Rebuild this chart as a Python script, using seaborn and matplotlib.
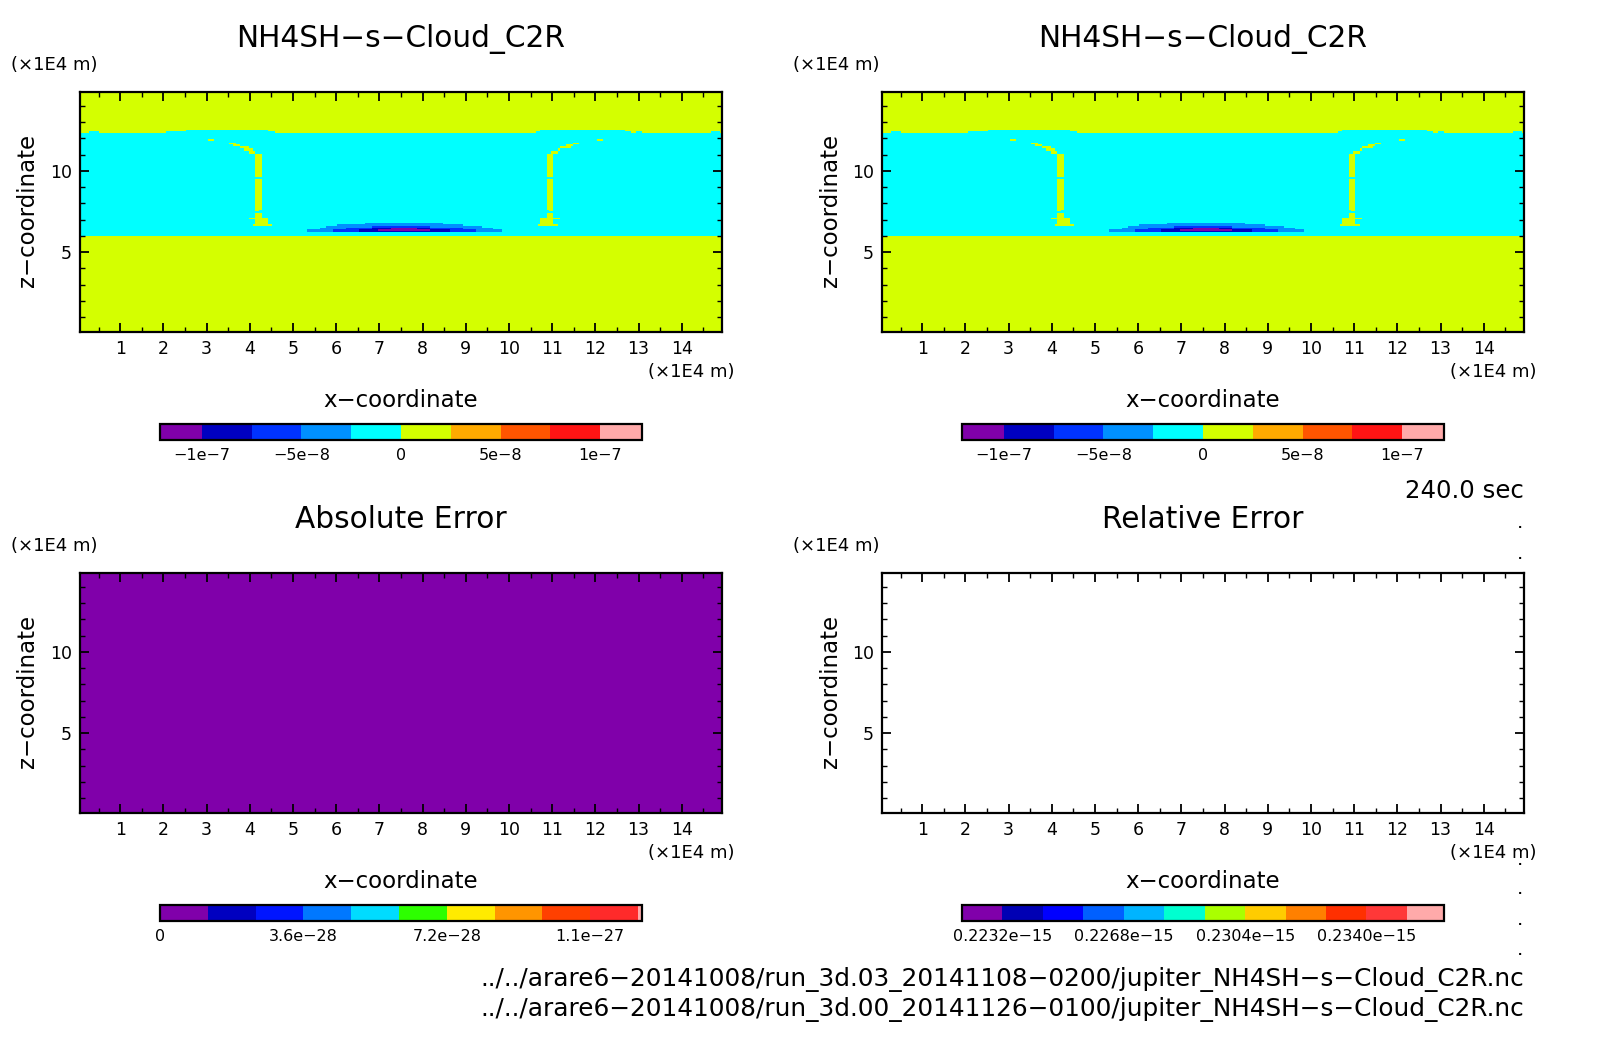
import matplotlib
matplotlib.use("Agg")
import matplotlib.pyplot as plt
import numpy as np
import seaborn as sns
from matplotlib.colors import BoundaryNorm, ListedColormap
from matplotlib.cm import ScalarMappable
from matplotlib.ticker import FixedLocator

sns.set_style("white", {"text.color": "black", "xtick.color": "black", "ytick.color": "black",
                        "axes.axisbelow": False})
plt.rcParams["font.family"] = ["DejaVu Sans"]

# grid of the model output (x 1E4 m, z 1E4 m)
x_edges = np.linspace(0.07, 14.93, 298)
z_edges = np.linspace(0.10, 14.84, 148)

# contour levels and colours of each colour bar
mix_levels = [-1.21e-7, -1e-7, -7.5e-8, -5e-8, -2.5e-8, 0, 2.5e-8, 5e-8, 7.5e-8, 1e-7, 1.21e-7]
mix_colors = ["#8000aa", "#0000c0", "#0033ff", "#0090ff", "#00ffff", "#d4ff00",
              "#ffaa00", "#ff5500", "#ff1414", "#ffaaaa"]
mix_ticks = [-1e-7, -5e-8, 0, 5e-8, 1e-7]
mix_ticklabels = ["\u22121e\u22127", "\u22125e\u22128", "0", "5e\u22128", "1e\u22127"]

abs_levels = [0, 1.2e-28, 2.4e-28, 3.6e-28, 4.8e-28, 6e-28, 7.2e-28, 8.4e-28, 9.6e-28, 1.08e-27, 1.2e-27, 1.21e-27]
abs_colors = ["#8000aa", "#0000c0", "#0015ff", "#0078ff", "#00dcff", "#2dff00",
              "#ffeb00", "#ff9500", "#ff4000", "#ff2a2a", "#ffaaaa"]
abs_ticks = [0, 3.6e-28, 7.2e-28, 1.08e-27]
abs_ticklabels = ["0", "3.6e\u221228", "7.2e\u221228", "1.1e\u221227"]

rel_levels = [0.2220, 0.2232, 0.2244, 0.2256, 0.2268, 0.2280, 0.2292, 0.2304, 0.2316, 0.2328, 0.2340, 0.2352, 0.2363]
rel_colors = ["#8000aa", "#0000b4", "#0000ff", "#0060ff", "#00b4ff", "#00ffd0",
              "#aaff00", "#ffcc00", "#ff8000", "#ff3000", "#ff3838", "#ffaaaa"]
rel_ticks = [0.2232, 0.2268, 0.2304, 0.2340]
rel_ticklabels = ["0.2232e\u221215", "0.2268e\u221215", "0.2304e\u221215", "0.2340e\u221215"]

# cloud layer: cyan band between base and top
cloud_base = 6.05
cloud_top = 12.34
cloud_value = -1.25e-8
clear_value = 1.25e-8

# x0, x1, z of the places where the top of the band is higher
top_bumps = [(0.28, 0.50, 12.45), (2.09, 2.25, 12.45), (2.25, 2.40, 12.42), (2.40, 2.50, 12.45),
             (2.50, 4.43, 12.52), (4.43, 4.55, 12.45),
             (10.62, 10.72, 12.45), (10.72, 12.69, 12.52), (12.69, 12.85, 12.42),
             (12.92, 13.07, 12.45), (14.69, 14.89, 12.45)]

# x0, x1, z0, z1 of the thin positive plumes
plumes = [(3.01, 3.16, 11.87, 11.95), (3.52, 3.68, 11.64, 11.72), (3.62, 3.75, 11.56, 11.64),
          (3.76, 3.99, 11.40, 11.56), (3.89, 4.05, 11.28, 11.40), (3.99, 4.13, 11.07, 11.28),
          (4.12, 4.29, 9.63, 11.07), (4.12, 4.29, 7.63, 9.53), (4.12, 4.22, 7.52, 7.63),
          (4.12, 4.29, 7.13, 7.42), (4.12, 4.43, 6.70, 7.13), (3.99, 4.13, 7.04, 7.13),
          (4.05, 4.51, 6.66, 6.76),
          (12.01, 12.16, 11.87, 11.95), (11.48, 11.62, 11.64, 11.72), (11.34, 11.48, 11.56, 11.64),
          (11.19, 11.42, 11.40, 11.56), (11.11, 11.20, 11.28, 11.40), (10.97, 11.11, 11.07, 11.28),
          (10.88, 11.04, 9.63, 11.07), (10.88, 11.04, 7.63, 9.53), (10.95, 11.04, 7.52, 7.63),
          (10.88, 11.04, 7.13, 7.42), (10.72, 11.04, 6.70, 7.13), (11.03, 11.19, 7.04, 7.13),
          (10.66, 11.12, 6.66, 6.76)]

# x0, x1, z0, z1 of the negative lens, one list for each level
lens_0090ff = [(5.34, 9.81, 6.25, 6.38), (5.63, 9.64, 6.38, 6.48), (5.77, 9.39, 6.48, 6.60),
               (6.00, 8.93, 6.60, 6.68), (6.67, 8.48, 6.68, 6.77), (7.43, 7.73, 6.77, 6.85)]
lens_0033ff = [(5.92, 9.23, 6.25, 6.44), (6.23, 8.93, 6.44, 6.56), (6.83, 8.18, 6.56, 6.64)]
lens_0000c0 = [(6.53, 8.64, 6.25, 6.44), (6.83, 8.18, 6.44, 6.56)]
lens_8000aa = [(6.98, 8.18, 6.33, 6.42), (7.27, 7.87, 6.30, 6.48)]
lens_values = [-3.75e-8, -6.25e-8, -8.75e-8, -1.1e-7]

# title, contour text
panel_titles = ["NH4SH\u2212s\u2212Cloud_C2R", "NH4SH\u2212s\u2212Cloud_C2R", "Absolute Error", "Relative Error"]
time_text = "240.0 sec"
file_texts = ["../../arare6\u221220141008/run_3d.03_20141108\u22120200/jupiter_NH4SH\u2212s\u2212Cloud_C2R.nc",
              "../../arare6\u221220141008/run_3d.00_20141126\u22120100/jupiter_NH4SH\u2212s\u2212Cloud_C2R.nc"]
dot_rows = [525, 556, 862, 891, 922, 952]

x_centers = (x_edges[:-1] + x_edges[1:]) / 2
z_centers = (z_edges[:-1] + z_edges[1:]) / 2
xx, zz = np.meshgrid(x_centers, z_centers)


def fill(field, x0, x1, z0, z1, value):
    field[(xx >= x0) & (xx < x1) & (zz >= z0) & (zz < z1)] = value


def mix_field():
    field = np.full(xx.shape, clear_value)
    fill(field, 0, 15, cloud_base, cloud_top, cloud_value)
    for x0, x1, z1 in top_bumps:
        fill(field, x0, x1, cloud_top, z1, cloud_value)
    for x0, x1, z0, z1 in plumes:
        fill(field, x0, x1, z0, z1, clear_value)
    for runs, value in zip([lens_0090ff, lens_0033ff, lens_0000c0, lens_8000aa], lens_values):
        for x0, x1, z0, z1 in runs:
            fill(field, x0, x1, z0, z1, value)
    return field


W, H = 1604, 1054
fig = plt.figure(figsize=(W / 100, H / 100), dpi=100)
FS_TITLE = 21.3
FS_LABEL = 16.5
FS_NOTE = 17.6
FS_PATH = 17.8
FS_TICK = 12.5
FS_BAR = 11.5
FS_UNIT = 13


def px_box(left, top, right, bottom):
    return [left / W, 1 - bottom / H, (right - left) / W, (bottom - top) / H]


def x_pos(v):
    return (v - x_edges[0]) / (x_edges[1] - x_edges[0])


def z_pos(v):
    return (v - z_edges[0]) / (z_edges[1] - z_edges[0])


def panel(dx, dy, title, field, levels, colors, ticks, ticklabels, bar_right, unit_x, bar_left=160):
    ax = fig.add_axes(px_box(80 + dx, 92 + dy, 722 + dx, 332 + dy))
    cmap = ListedColormap(colors)
    norm = BoundaryNorm(levels, cmap.N)
    if np.isnan(field).all():
        sns.heatmap(field, ax=ax, cbar=False, vmin=0, vmax=1, cmap=cmap,
                    xticklabels=False, yticklabels=False)
    else:
        sns.heatmap(field, ax=ax, cbar=False, norm=norm, cmap=cmap,
                    xticklabels=False, yticklabels=False)
    ax.set_ylim(0, field.shape[0])
    ax.set_xlabel("")
    ax.set_ylabel("")
    ax.set_axisbelow(False)

    for spine in ax.spines.values():
        spine.set_visible(True)
        spine.set_linewidth(1.6)
        spine.set_color("black")
    ax.xaxis.set_major_locator(FixedLocator([x_pos(v) for v in range(1, 15)]))
    ax.xaxis.set_minor_locator(FixedLocator([x_pos(v + 0.5) for v in range(0, 15)]))
    ax.yaxis.set_major_locator(FixedLocator([z_pos(5), z_pos(10)]))
    ax.yaxis.set_minor_locator(FixedLocator([z_pos(v) for v in range(1, 15)]))
    ax.set_xticklabels([str(v) for v in range(1, 15)], fontsize=FS_TICK)
    ax.set_yticklabels(["5", "10"], fontsize=FS_TICK)
    ax.tick_params(which="major", direction="in", length=6.5, width=1.3, top=True, right=True,
                   bottom=True, left=True, pad=6, rotation=0)
    ax.tick_params(which="minor", direction="in", length=3.6, width=1.0, top=True, right=True,
                   bottom=True, left=True)

    fig.text((401 + dx) / W, 1 - (39 + dy) / H, title, fontsize=FS_TITLE, ha="center", va="center")
    fig.text(unit_x / W, 1 - (65 + dy) / H, "(\u00d71E4 m)", fontsize=FS_UNIT, ha="left", va="center")
    fig.text((735 + dx) / W, 1 - (372 + dy) / H, "(\u00d71E4 m)", fontsize=FS_UNIT, ha="right", va="center")
    fig.text((401 + dx) / W, 1 - (401 + dy) / H, "x\u2212coordinate", fontsize=FS_LABEL, ha="center", va="center")
    fig.text((28 + dx) / W, 1 - (210 + dy) / H, "z\u2212coordinate", fontsize=FS_LABEL, ha="center", va="center",
             rotation=90)

    cax = fig.add_axes(px_box(bar_left + dx, 424 + dy, bar_right + dx, 440 + dy))
    cb = fig.colorbar(ScalarMappable(norm=norm, cmap=cmap), cax=cax, orientation="horizontal",
                      spacing="proportional", ticks=ticks)
    cb.ax.set_xticklabels(ticklabels, fontsize=FS_BAR)
    cb.ax.tick_params(length=0, pad=6)
    cb.ax.minorticks_off()
    cb.outline.set_linewidth(1.6)
    cb.outline.set_edgecolor("black")
    return ax


mix = mix_field()
panel(0, 0, panel_titles[0], mix, mix_levels, mix_colors, mix_ticks, mix_ticklabels, 642, 11)
panel(802, 0, panel_titles[1], mix, mix_levels, mix_colors, mix_ticks, mix_ticklabels, 642, 793)
panel(0, 481, panel_titles[2], np.zeros(xx.shape), abs_levels, abs_colors, abs_ticks, abs_ticklabels, 642, 11)
panel(802, 481, panel_titles[3], np.full(xx.shape, np.nan), rel_levels, rel_colors, rel_ticks, rel_ticklabels, 642, 793)

fig.text(1524 / W, 1 - 491 / H, time_text, fontsize=FS_NOTE, ha="right", va="center")
fig.text(1524 / W, 1 - 979 / H, file_texts[0], fontsize=FS_PATH, ha="right", va="center")
fig.text(1524 / W, 1 - 1010 / H, file_texts[1], fontsize=FS_PATH, ha="right", va="center")
for y in dot_rows:
    fig.text(1520 / W, 1 - y / H, ".", fontsize=8, fontweight="bold", ha="center", va="center")

fig.savefig("out.png", dpi=100, facecolor="white")
